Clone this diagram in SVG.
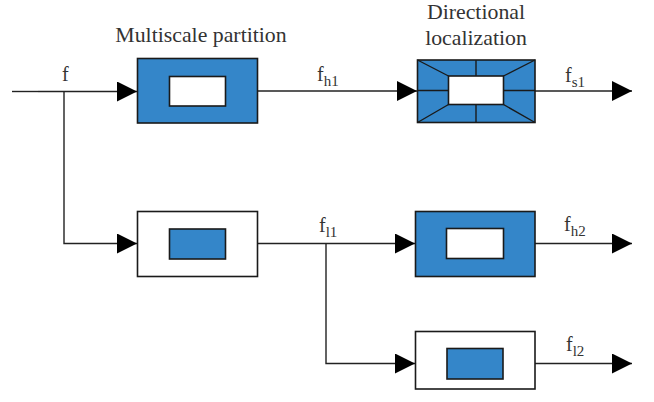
<svg xmlns="http://www.w3.org/2000/svg" width="654" height="402" viewBox="0 0 654 402">
  <defs>
    <marker id="arrow" viewBox="0 0 20 20" refX="20" refY="10" markerWidth="20" markerHeight="20" markerUnits="userSpaceOnUse" orient="auto">
      <path d="M0,0 L20,10 L0,20 Z" fill="#000"/>
    </marker>
  </defs>
  <style>
    .blue { fill: #3486c9; stroke: #1a1a1a; stroke-width: 1.6; }
    .white { fill: #ffffff; stroke: #1a1a1a; stroke-width: 1.6; }
    .div { stroke: #1a1a1a; stroke-width: 1.4; fill: none; }
    .wire { stroke: #222; stroke-width: 1.4; fill: none; }
    text { font-family: 'Liberation Serif', 'DejaVu Serif', serif; fill: #333; }
    .title { font-size: 21.8px; text-anchor: middle; }
    .lbl { font-size: 20px; }
    .sub { font-size: 15px; }
  </style>
  <rect width="654" height="402" fill="#fff"/>

  <!-- connectors -->
  <g id="connectors">
    <path class="wire" d="M12,91.5 H38" stroke-width="2" stroke="#444"/>
    <path class="wire" d="M38,91.5 H137" marker-end="url(#arrow)"/>
    <path class="wire" d="M64,91.5 V243.5 H137" marker-end="url(#arrow)"/>
    <path class="wire" d="M258,91 H417" marker-end="url(#arrow)"/>
    <path class="wire" d="M535,91 H632" marker-end="url(#arrow)"/>
    <path class="wire" d="M258,243.5 H415" marker-end="url(#arrow)"/>
    <path class="wire" d="M326,243.5 V363.5 H415" marker-end="url(#arrow)"/>
    <path class="wire" d="M535,243.5 H632" marker-end="url(#arrow)"/>
    <path class="wire" d="M535,363.5 H632" marker-end="url(#arrow)"/>
  </g>

  <!-- labels -->
  <g font-family="Liberation Serif, DejaVu Serif, serif">
    <text class="title" x="201" y="42">Multiscale partition</text>
    <text class="title" x="476" y="18.5">Directional</text>
    <text class="title" x="476" y="44.5">localization</text>
    <text class="lbl" x="62" y="81">f</text>
    <text class="lbl" x="317" y="81">f<tspan class="sub" dy="5">h1</tspan></text>
    <text class="lbl" x="565" y="81.5">f<tspan class="sub" dy="5">s1</tspan></text>
    <text class="lbl" x="319" y="231.5">f<tspan class="sub" dy="5">l1</tspan></text>
    <text class="lbl" x="564" y="231">f<tspan class="sub" dy="5">h2</tspan></text>
    <text class="lbl" x="566" y="350.5">f<tspan class="sub" dy="5">l2</tspan></text>
  </g>

  <!-- multiscale partition, high-pass -->
  <g id="partition-high">
    <rect class="blue" x="137.5" y="58.5" width="120" height="64.5"/>
    <rect class="white" x="169.5" y="76.5" width="56" height="29.5"/>
  </g>

  <!-- multiscale partition, low-pass -->
  <g id="partition-low">
    <rect class="white" x="137.5" y="211.5" width="120" height="65"/>
    <rect class="blue" x="169.5" y="229" width="56" height="30"/>
  </g>

  <!-- directional localization -->
  <g id="directional">
    <rect class="blue" x="417.5" y="60" width="117.5" height="62.5"/>
    <rect class="white" x="448.5" y="76" width="55" height="28.5"/>
    <path class="div" d="M417.5,60 L448.5,76 M535,60 L503.5,76 M417.5,122.5 L448.5,104.5 M535,122.5 L503.5,104.5 M476,60 V76 M476,104.5 V122.5 M417.5,90.5 H448.5 M503.5,90.5 H535"/>
  </g>

  <!-- second scale, high-pass -->
  <g id="scale2-high">
    <rect class="blue" x="415.5" y="211.5" width="119.5" height="65"/>
    <rect class="white" x="446.5" y="228.5" width="57" height="30"/>
  </g>

  <!-- second scale, low-pass -->
  <g id="scale2-low">
    <rect class="white" x="415.5" y="331.5" width="119.5" height="57.5"/>
    <rect class="blue" x="447" y="348.5" width="56" height="30.5"/>
  </g>
</svg>
